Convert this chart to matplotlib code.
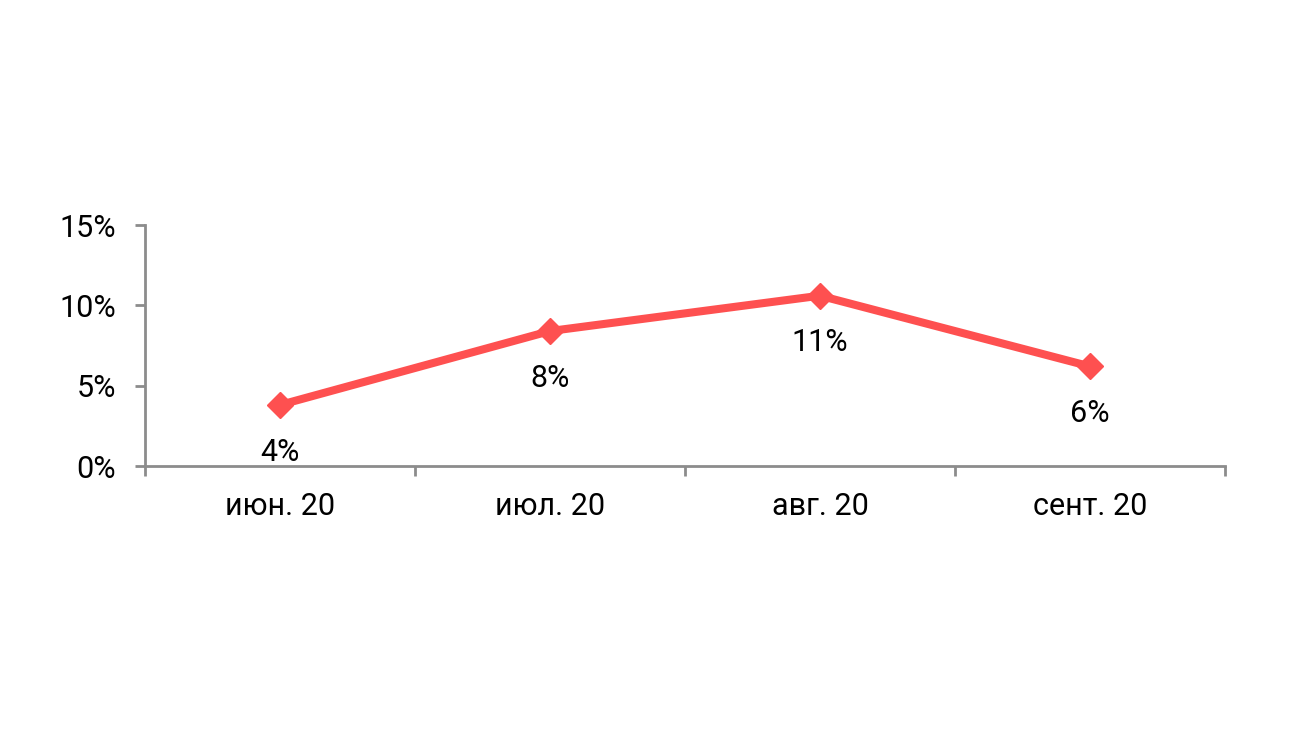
import numpy as np
import matplotlib.pyplot as plt

plt.rcParams['font.family'] = ['Roboto', 'DejaVu Sans']

# data
months = ['июн. 20', 'июл. 20', 'авг. 20', 'сент. 20']
values = [3.8, 8.4, 10.6, 6.2]
labels = ['4%', '8%', '11%', '6%']
yticks = [0, 5, 10, 15]

fig = plt.figure(figsize=(13, 7.31), dpi=100)
ax = fig.add_axes([0.1115, 0.3625, 0.8308, 0.3297])

x = np.arange(len(months))
ax.plot(x, values, color='#fe5050', linewidth=5.8, marker='D', markersize=13,
        solid_joinstyle='miter')

for xi, v, lab in zip(x, values, labels):
    ax.annotate(lab, (xi, v), xytext=(0, -34), textcoords='offset points',
                ha='center', va='center', fontsize=22, color='black')

ax.set_xlim(-0.5, len(months) - 0.5)
ax.set_ylim(0, 15)
ax.set_yticks(yticks)
ax.set_yticklabels([f'{t}%' for t in yticks], fontsize=22)

# category labels between boundary ticks
ax.set_xticks(np.arange(-0.5, len(months)), minor=False)
ax.set_xticklabels([])
ax.set_xticks(x, minor=True)
ax.set_xticklabels(months, minor=True, fontsize=22)
ax.tick_params(axis='x', which='minor', length=0, pad=19)
ax.tick_params(axis='x', which='major', length=7, width=2, color='#8c8c8c')
ax.tick_params(axis='y', length=7, width=2, color='#8c8c8c', pad=14)

for s in ['top', 'right']:
    ax.spines[s].set_visible(False)
for s in ['left', 'bottom']:
    ax.spines[s].set_color('#8c8c8c')
    ax.spines[s].set_linewidth(2)

fig.savefig('out.png', dpi=100)
